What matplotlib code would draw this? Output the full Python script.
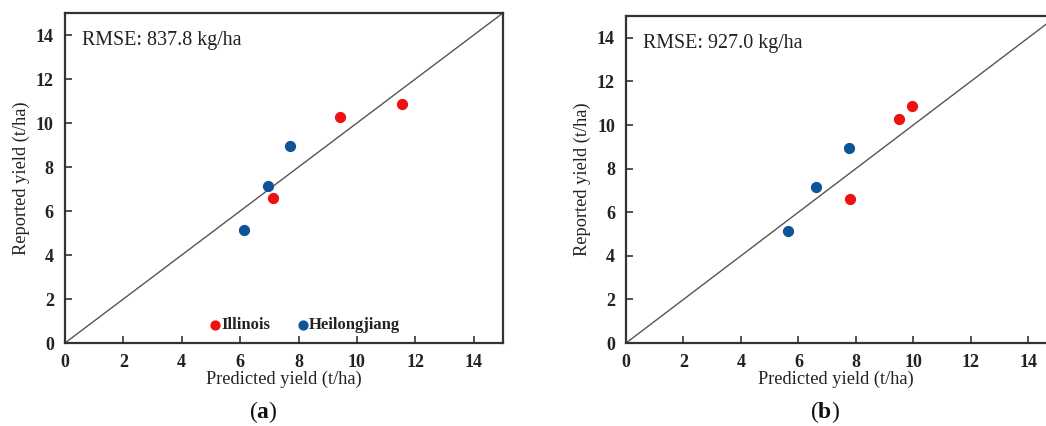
"""Predicted vs reported yield scatter, two panels."""

import matplotlib
matplotlib.use("Agg")
import matplotlib.pyplot as plt
import numpy as np

plt.rcParams["font.family"] = ["Liberation Serif", "DejaVu Serif"]
plt.rcParams["mathtext.fontset"] = "custom"
plt.rcParams["mathtext.rm"] = "Liberation Serif"
plt.rcParams["mathtext.bf"] = "Liberation Serif:bold"

# panel (a)
pred_a_illinois = [11.55, 9.42, 7.12]
pred_a_heilong = [6.12, 6.97, 7.70]
# panel (b)
pred_b_illinois = [9.96, 9.50, 7.80]
pred_b_heilong = [5.63, 6.62, 7.77]
# reported yields (same for both panels)
rep_illinois = [10.87, 10.26, 6.59]
rep_heilong = [5.12, 7.15, 8.96]

rmse_labels = ["RMSE: 837.8 kg/ha", "RMSE: 927.0 kg/ha"]
panel_tags = ["a", "b"]
ticks = [0, 2, 4, 6, 8, 10, 12, 14]

RED = "#ee1111"
BLUE = "#0f5499"
INK = "#222222"

fig = plt.figure(figsize=(10.46, 4.26), dpi=100)
ax_a = fig.add_axes([0.0621, 0.1948, 0.4187, 0.7746])
ax_b = fig.add_axes([0.5985, 0.1948, 0.4015, 0.7676])


def style_axis(axis, xmax, rmse):
    axis.set_xlim(0, xmax)
    axis.set_ylim(0, 15)
    axis.set_xticks(ticks)
    axis.set_yticks(ticks)
    axis.tick_params(direction="in", length=5, width=1.2, color="#333333",
                     labelsize=13, labelcolor=INK)
    axis.tick_params(axis="x", pad=8)
    axis.tick_params(axis="y", pad=8)
    for label in axis.get_xticklabels() + axis.get_yticklabels():
        label.set_fontweight("bold")
    for spine in axis.spines.values():
        spine.set_linewidth(1.6)
        spine.set_color("#333333")
    axis.plot([0, 15], [0, 15], color="#555555", lw=1.0, zorder=1)
    axis.set_xlabel("Predicted yield (t/ha)", fontsize=13.2, color=INK, labelpad=0)
    axis.set_ylabel("Reported yield (t/ha)", fontsize=13.2, color=INK, labelpad=4)
    axis.text(0.04, 0.945, rmse, transform=axis.transAxes, fontsize=14.4,
              color=INK, va="top", ha="left")


style_axis(ax_a, 15, rmse_labels[0])
ax_a.scatter(pred_a_illinois, rep_illinois, s=50, color=RED, zorder=3, label="Illinois")
ax_a.scatter(pred_a_heilong, rep_heilong, s=50, color=BLUE, zorder=3, label="Heilongjiang")
leg = ax_a.legend(loc="lower center", bbox_to_anchor=(0.535, -0.015), ncol=2, frameon=False,
                  handletextpad=-0.65, columnspacing=1.0, markerscale=0.9,
                  prop={"weight": "bold", "size": 12})
for t in leg.get_texts():
    t.set_color(INK)

style_axis(ax_b, 14.62, rmse_labels[1])
ax_b.spines["right"].set_visible(False)
ax_b.scatter(pred_b_illinois, rep_illinois, s=50, color=RED, zorder=3)
ax_b.scatter(pred_b_heilong, rep_heilong, s=50, color=BLUE, zorder=3)

for cx, tag in zip([263 / 1046, 825 / 1046], panel_tags):
    fig.text(cx, 0.033, "(" + r"$\mathbf{" + tag + "}$" + ")", fontsize=17,
             ha="center", va="center", color="#111111")

fig.savefig("out.png", dpi=100)
